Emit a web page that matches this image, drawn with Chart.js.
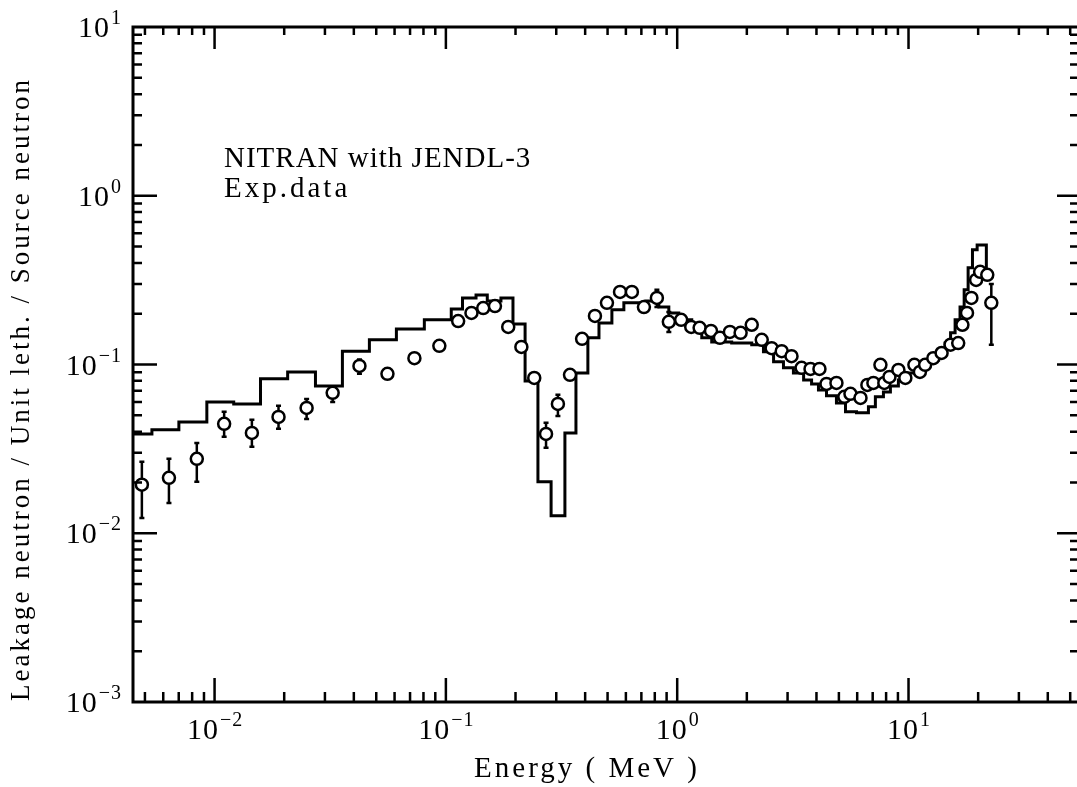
<!DOCTYPE html>
<html>
<head>
<meta charset="utf-8">
<script src="https://cdn.jsdelivr.net/npm/chart.js@4.4.0/dist/chart.umd.min.js"></script>
<style>
  html, body { margin: 0; padding: 0; background: #fff; }
  canvas { display: block; }
</style>
</head>
<body>
<canvas id="leakage-chart" width="1077" height="787"></canvas>
<script>
// NITRAN with JENDL-3 : group boundaries (MeV) and value in each group
const binEdges = [0.00444, 0.00536, 0.00701, 0.00926, 0.0121, 0.0158, 0.0207, 0.0273, 0.0357, 0.0467,
  0.0611, 0.0807, 0.1055, 0.118, 0.135, 0.151, 0.173, 0.195, 0.220, 0.250, 0.285, 0.327, 0.365,
  0.411, 0.459, 0.522, 0.588, 0.732, 0.833, 0.920, 1.016, 1.156, 1.277, 1.41, 1.72, 2.10, 2.36,
  2.61, 2.88, 3.18, 3.52, 3.81, 4.08, 4.42, 4.88, 5.34, 5.96, 6.71, 7.19, 7.79, 8.35, 9.04, 9.78,
  10.7, 12.2, 13.5, 14.4, 15.2, 15.9, 16.7, 17.4, 18.1, 18.9, 19.8, 21.7, 22.5];
const calcValues = [0.0388, 0.0410, 0.0457, 0.0600, 0.0584, 0.0822, 0.0904, 0.0747, 0.120, 0.140,
  0.1625, 0.184, 0.2135, 0.248, 0.258, 0.238, 0.248, 0.174, 0.0799, 0.0202, 0.0127, 0.0393, 0.0892,
  0.144, 0.176, 0.211, 0.232, 0.238, 0.219, 0.202, 0.184, 0.165, 0.144, 0.136, 0.134, 0.131, 0.119,
  0.104, 0.0955, 0.0892, 0.0810, 0.0767, 0.0707, 0.0652, 0.0592, 0.0524, 0.0517, 0.0561, 0.0643,
  0.0688, 0.0747, 0.0810, 0.0892, 0.0981, 0.1065, 0.119, 0.134, 0.154, 0.184, 0.219, 0.277, 0.374,
  0.478, 0.511, 0.363];

// Exp.data
const expEnergy = [0.00485, 0.00635, 0.00838, 0.0110, 0.0145, 0.0189, 0.0250, 0.0324, 0.0423, 0.0559,
  0.0731, 0.0937, 0.113, 0.129, 0.145, 0.163, 0.186, 0.212, 0.241, 0.271, 0.305, 0.344, 0.388, 0.441,
  0.497, 0.566, 0.637, 0.718, 0.817, 0.920, 1.04, 1.15, 1.25, 1.40, 1.53, 1.69, 1.88, 2.10, 2.32,
  2.56, 2.83, 3.12, 3.45, 3.77, 4.12, 4.42, 4.88, 5.28, 5.61, 6.20, 6.64, 7.05, 7.56, 7.86, 8.27,
  9.04, 9.69, 10.6, 11.2, 11.8, 12.8, 13.9, 15.2, 16.4, 17.1, 17.9, 18.7, 19.6, 20.4, 21.9, 22.8];
const expValues = [0.0194, 0.0213, 0.0276, 0.0445, 0.0393, 0.0489, 0.0553, 0.0679, 0.0981, 0.0880,
  0.109, 0.129, 0.181, 0.202, 0.216, 0.222, 0.167, 0.127, 0.0833, 0.0388, 0.0584, 0.0868, 0.142,
  0.194, 0.232, 0.269, 0.269, 0.219, 0.248, 0.179, 0.184, 0.167, 0.165, 0.158, 0.144, 0.156, 0.154,
  0.172, 0.140, 0.125, 0.120, 0.112, 0.0955, 0.0942, 0.0942, 0.0767, 0.0778, 0.0643, 0.0670, 0.0634,
  0.0757, 0.0778, 0.0995, 0.0778, 0.0844, 0.0929, 0.0833, 0.0995, 0.0904, 0.0995, 0.109, 0.117,
  0.131, 0.134, 0.172, 0.202, 0.248, 0.317, 0.354, 0.340, 0.232];

// error bars that show outside the markers (index into expEnergy)
const errIndex = [0, 1, 2, 3, 4, 5, 6, 7, 8, 19, 20, 28, 29, 70];
const errLow = [0.0123, 0.0151, 0.0202, 0.0373, 0.0325, 0.0416, 0.0476, 0.0600, 0.0880, 0.0321, 0.0496, 0.219, 0.156, 0.131];
const errHigh = [0.0265, 0.0276, 0.0343, 0.0524, 0.0470, 0.0569, 0.0625, 0.0737, 0.107, 0.0451, 0.0661, 0.277, 0.205, 0.30];

// axis ticks
const xDecades = [-2, -1, 0, 1];
const yDecades = [-3, -2, -1, 0, 1];
const minorSteps = [2, 3, 4, 5, 6, 7, 8, 9];

const serif = "'Liberation Serif', 'DejaVu Serif', serif";

const calcPoints = binEdges.map((e, i) => ({ x: e, y: calcValues[Math.min(i, calcValues.length - 1)] }));
const expPoints = expEnergy.map((e, i) => ({ x: e, y: expValues[i] }));

function drawPower(ctx, exp, x, baseline, align) {
  // "10" with a raised exponent
  const sup = exp < 0 ? '\u2212' + Math.abs(exp) : String(exp);
  ctx.font = '30px ' + serif;
  const wBase = ctx.measureText('10').width;
  ctx.font = '20px ' + serif;
  const wSup = ctx.measureText(sup).width;
  let left = align === 'right' ? x - wBase - wSup : x - (wBase + wSup) / 2;
  ctx.font = '30px ' + serif;
  ctx.fillText('10', left, baseline);
  ctx.font = '20px ' + serif;
  ctx.fillText(sup, left + wBase + 1, baseline - 13);
}

const framePlugin = {
  id: 'frame',
  beforeDatasetsDraw(chart) {
    const { ctx, scales: { x, y } } = chart;
    ctx.save();
    ctx.strokeStyle = '#000';
    ctx.lineWidth = 2.5;
    errIndex.forEach((k, i) => {
      const px = x.getPixelForValue(expEnergy[k]);
      const lo = y.getPixelForValue(errLow[i]);
      const hi = y.getPixelForValue(errHigh[i]);
      ctx.beginPath();
      ctx.moveTo(px, lo); ctx.lineTo(px, hi);
      ctx.moveTo(px - 2.5, lo); ctx.lineTo(px + 2.5, lo);
      ctx.moveTo(px - 2.5, hi); ctx.lineTo(px + 2.5, hi);
      ctx.stroke();
    });
    ctx.restore();
  },
  afterDraw(chart) {
    const { ctx, chartArea: a, scales: { x, y } } = chart;
    ctx.save();
    ctx.strokeStyle = '#000';
    ctx.fillStyle = '#000';
    ctx.lineWidth = 3;
    // the right side of the frame runs off the page in the original
    ctx.beginPath();
    ctx.moveTo(a.right + 2, a.top);
    ctx.lineTo(a.left, a.top);
    ctx.lineTo(a.left, a.bottom);
    ctx.lineTo(a.right + 2, a.bottom);
    ctx.stroke();

    ctx.lineWidth = 2.5;
    ctx.beginPath();
    for (let d = -3; d <= 2; d++) {
      [1].concat(minorSteps).forEach((m) => {
        const v = m * Math.pow(10, d);
        const major = m === 1;
        if (v > x.min && v < x.max) {
          const px = x.getPixelForValue(v);
          ctx.moveTo(px, a.bottom); ctx.lineTo(px, a.bottom - (major ? 24 : 10));
          ctx.moveTo(px, a.top); ctx.lineTo(px, a.top + (major ? 22 : 8));
        }
        if (v > y.min && v < y.max) {
          const py = y.getPixelForValue(v);
          ctx.moveTo(a.left, py); ctx.lineTo(a.left + (major ? 24 : 9), py);
          ctx.moveTo(a.right + 2, py); ctx.lineTo(a.right - (major ? 20 : 7), py);
        }
      });
    }
    ctx.stroke();

    ctx.textBaseline = 'alphabetic';
    ctx.textAlign = 'left';
    ctx.letterSpacing = '1px';
    xDecades.forEach((d) => drawPower(ctx, d, x.getPixelForValue(Math.pow(10, d)), a.bottom + 37, 'center'));
    yDecades.forEach((d) => drawPower(ctx, d, a.left - 12, y.getPixelForValue(Math.pow(10, d)) + 10, 'right'));

    // axis titles
    ctx.letterSpacing = '3px';
    ctx.font = '29px ' + serif;
    ctx.textAlign = 'center';
    ctx.fillText('Energy ( MeV )', 587, 777);
    ctx.save();
    ctx.translate(29, 389);
    ctx.rotate(-Math.PI / 2);
    ctx.font = '27px ' + serif;
    ctx.fillText('Leakage neutron / Unit leth. / Source neutron', 0, 0);
    ctx.restore();

    // labels inside the frame
    ctx.textAlign = 'left';
    ctx.font = '29px ' + serif;
    ctx.letterSpacing = '1px';
    ctx.fillText('NITRAN with JENDL-3', 224, 167);
    ctx.letterSpacing = '3px';
    ctx.fillText('Exp.data', 224, 197);
    ctx.restore();
  }
};

new Chart(document.getElementById('leakage-chart'), {
  type: 'scatter',
  data: {
    datasets: [
      {
        label: 'Exp.data',
        data: expPoints,
        pointStyle: 'circle',
        pointRadius: 6,
        pointBorderWidth: 2.5,
        pointBackgroundColor: '#fff',
        pointBorderColor: '#000',
      },
      {
        label: 'NITRAN with JENDL-3',
        type: 'line',
        data: calcPoints,
        stepped: true,
        borderColor: '#000',
        borderWidth: 3,
        pointRadius: 0,
        fill: false,
      },
    ],
  },
  options: {
    responsive: false,
    animation: false,
    layout: { autoPadding: false, padding: { top: 27, right: -2, bottom: 0, left: 0 } },
    scales: {
      x: {
        type: 'logarithmic',
        min: 0.00444,
        max: 53.5,
        ticks: { display: false },
        grid: { display: false },
        border: { display: false },
        afterFit: (scale) => { scale.height = 85; },
      },
      y: {
        type: 'logarithmic',
        min: 0.001,
        max: 10,
        ticks: { display: false },
        grid: { display: false },
        border: { display: false },
        afterFit: (scale) => { scale.width = 133; },
      },
    },
    plugins: {
      legend: { display: false },
      tooltip: { enabled: false },
    },
  },
  plugins: [framePlugin],
});
</script>
</body>
</html>
